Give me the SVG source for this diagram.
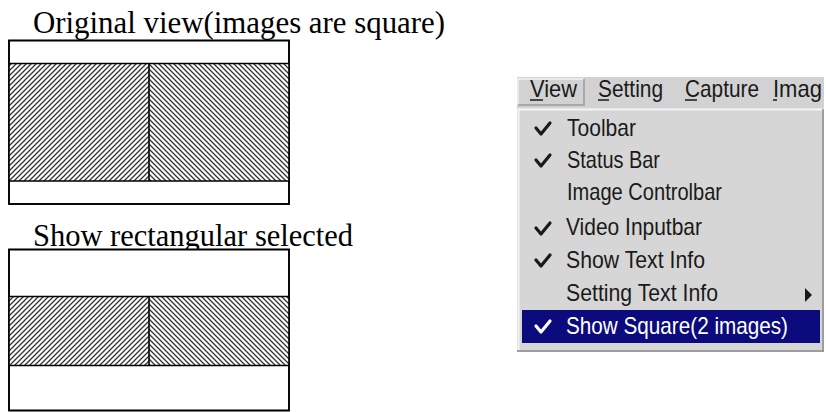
<svg xmlns="http://www.w3.org/2000/svg" width="826" height="412" viewBox="0 0 826 412">
<defs>
<style>
.cap{font-family:"Liberation Serif","Times New Roman",serif;font-size:30.5px;fill:#000}
.box{fill:#fff;stroke:#000;stroke-width:1.6}
.ln{stroke:#000;stroke-width:1.6;fill:none}
.mi{font-family:"Liberation Sans",Arial,sans-serif;font-size:24px;fill:#1a1a1a}
.chk{fill:none;stroke:#1a1a1a;stroke-width:3.2;stroke-linecap:round;stroke-linejoin:round}
</style>
<pattern id="hL" width="5" height="5" patternUnits="userSpaceOnUse"><rect width="5" height="5" fill="#fff"/><path d="M-1,1 L1,-1 M0,5 L5,0 M4,6 L6,4" stroke="#333" stroke-width="1.3"/></pattern>
<pattern id="hR" width="5" height="5" patternUnits="userSpaceOnUse"><rect width="5" height="5" fill="#fff"/><path d="M-1,4 L1,6 M0,0 L5,5 M4,-1 L6,1" stroke="#333" stroke-width="1.3"/></pattern>
</defs>
<rect width="826" height="412" fill="#fff"/>

<g id="original-view">
<text class="cap" x="33" y="33" textLength="412" lengthAdjust="spacingAndGlyphs">Original view(images are square)</text>
<rect class="box" x="9" y="40.5" width="280" height="163.5"/>
<rect x="9" y="63.5" width="140" height="117.5" fill="url(#hL)"/>
<rect x="149" y="63.5" width="140" height="117.5" fill="url(#hR)"/>
<path class="ln" d="M9,63.5 H289 M9,181 H289 M149,63.5 V181"/>
<rect x="9" y="40.5" width="280" height="163.5" style="fill:none;stroke:#000;stroke-width:1.6"/>
</g>

<g id="rectangular-view">
<text class="cap" x="33" y="246">Show rectangular selected</text>
<rect class="box" x="9" y="249.5" width="280" height="161"/>
<rect x="9" y="296.5" width="140" height="69" fill="url(#hL)"/>
<rect x="149" y="296.5" width="140" height="69" fill="url(#hR)"/>
<path class="ln" d="M9,296.5 H289 M9,365.5 H289 M149,296.5 V365.5"/>
<rect x="9" y="249.5" width="280" height="161" style="fill:none;stroke:#000;stroke-width:1.6"/>
</g>

<g id="view-menu">
<rect x="517" y="77" width="307" height="31" fill="#d2d2d2"/>
<path d="M518,105 V79 H584" stroke="#f2f2f2" stroke-width="1.5" fill="none"/>
<path d="M584,79 V105 H518" stroke="#9a9a9a" stroke-width="1.5" fill="none"/>
<text class="mi" x="530" y="97" textLength="47" lengthAdjust="spacingAndGlyphs">View</text>
<text class="mi" x="598" y="97" textLength="65" lengthAdjust="spacingAndGlyphs">Setting</text>
<text class="mi" x="685" y="97" textLength="74" lengthAdjust="spacingAndGlyphs">Capture</text>
<text class="mi" x="773" y="97" textLength="49" lengthAdjust="spacingAndGlyphs">Imag</text>
<path d="M530,100 H543 M598,100 H609 M685,100 H697 M773,100 H777" stroke="#1a1a1a" stroke-width="1.4"/>
<rect x="517" y="108" width="307" height="244" fill="#d6d6d6"/>
<path d="M518.5,350 V109.5 H824" stroke="#f4f4f4" stroke-width="2" fill="none"/>
<path d="M517,351 H824 M823,109 V351" stroke="#8a8a8a" stroke-width="1.5"/>

<path class="chk" d="M536,128 L541,134 L550,123"/>
<text class="mi" x="567" y="136" textLength="69" lengthAdjust="spacingAndGlyphs">Toolbar</text>
<path class="chk" d="M536,160 L541,166 L550,155"/>
<text class="mi" x="567" y="168" textLength="93" lengthAdjust="spacingAndGlyphs">Status Bar</text>
<text class="mi" x="567" y="200" textLength="155" lengthAdjust="spacingAndGlyphs">Image Controlbar</text>
<path class="chk" d="M536,228 L541,234 L550,223"/>
<text class="mi" x="566" y="235" textLength="136" lengthAdjust="spacingAndGlyphs">Video Inputbar</text>
<path class="chk" d="M536,260 L541,266 L550,255"/>
<text class="mi" x="566" y="268" textLength="139" lengthAdjust="spacingAndGlyphs">Show Text Info</text>
<text class="mi" x="566" y="301" textLength="152" lengthAdjust="spacingAndGlyphs">Setting Text Info</text>
<path d="M805,288 L812,295 L805,302 Z" fill="#1a1a1a"/>
<rect x="522" y="310" width="298" height="33" fill="#0b0b7e"/>
<path class="chk" d="M536,326 L541,332 L550,321" style="stroke:#fff"/>
<text class="mi" x="566" y="334" textLength="222" lengthAdjust="spacingAndGlyphs" style="fill:#fff">Show Square(2 images)</text>
</g>
</svg>
